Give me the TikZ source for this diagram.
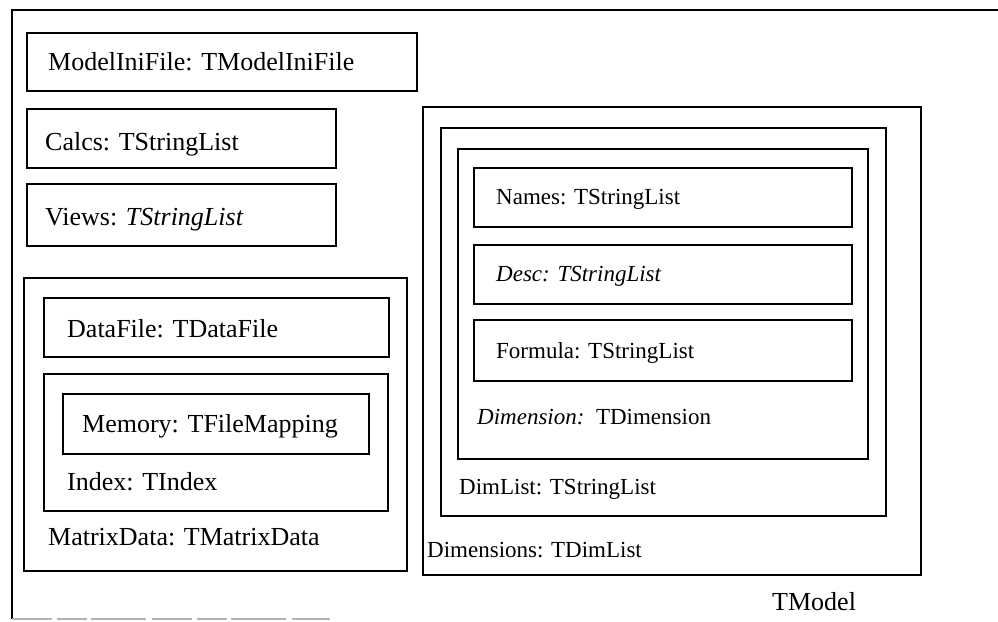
\documentclass[tikz,border=0pt]{standalone}
\usepackage{fontspec}
\setmainfont{Liberation Serif}
\begin{document}
\begin{tikzpicture}[x=1pt,y=-1pt,
  box/.style={draw, line width=1.6pt, inner sep=0pt, anchor=north west},
  lbl/.style={anchor=west, inner sep=0pt, text height=0.68em, text depth=0.2em, yshift=-5pt},
  big/.style={lbl, font=\fontsize{26}{28}\selectfont},
  small/.style={lbl, font=\fontsize{23}{25}\selectfont}]
\useasboundingbox (0,0) rectangle (998,621);
% outer frame (TModel)
\coordinate (otr) at (998,10);
\coordinate (otl) at (12,10);
\coordinate (obl) at (12,619);
\coordinate (obr) at (330,619);
\draw[line width=1.6pt] (otr) -- (otl) -- (obl);
\draw[gray!60, line width=1.2pt, dash pattern=on 40pt off 5pt on 30pt off 4pt on 55pt off 6pt] (obl) -- (obr);
% left column
\node[box, minimum width=390pt, minimum height=58pt] (mif) at (26,32) {};
\node[big] (mift) at (48,63) {ModelIniFile: TModelIniFile};
\node[box, minimum width=309pt, minimum height=59pt] (calcs) at (26,108) {};
\node[big] (calcst) at (45,143) {Calcs: TStringList};
\node[box, minimum width=309pt, minimum height=62pt] (views) at (26,183) {};
\node[big] (viewst) at (45,218) {Views: \textit{TStringList}};
\node[box, minimum width=383pt, minimum height=293pt] (matrix) at (23,277) {};
\node[box, minimum width=345pt, minimum height=59pt] (datafile) at (43,297) {};
\node[big] (datafilet) at (67,330) {DataFile: TDataFile};
\node[box, minimum width=344pt, minimum height=137pt] (index) at (43,373) {};
\node[box, minimum width=306pt, minimum height=60pt] (memory) at (62,393) {};
\node[big] (memoryt) at (82,425) {Memory: TFileMapping};
\node[big] (indext) at (67,483) {Index: TIndex};
\node[big] (matrixt) at (48,538) {MatrixData: TMatrixData};
% right column
\node[box, minimum width=498pt, minimum height=468pt] (dims) at (422,106) {};
\node[box, minimum width=445pt, minimum height=388pt] (dimlist) at (440,127) {};
\node[box, minimum width=410pt, minimum height=310pt] (dimension) at (457,148) {};
\node[box, minimum width=378pt, minimum height=59pt] (names) at (473,167) {};
\node[small] (namest) at (496,197) {Names: TStringList};
\node[box, minimum width=378pt, minimum height=59pt] (desc) at (473,244) {};
\node[small] (desct) at (496,274) {\textit{Desc: TStringList}};
\node[box, minimum width=378pt, minimum height=61pt] (formula) at (473,319) {};
\node[small] (formulat) at (496,351) {Formula: TStringList};
\node[small] (dimensiont) at (477,417) {\textit{Dimension:}\ \ TDimension};
\node[small] (dimlistt) at (459,487) {DimList: TStringList};
\node[small] (dimst) at (427,550) {Dimensions: TDimList};
\node[big] (tmodel) at (772,603) {TModel};
\end{tikzpicture}
\end{document}
